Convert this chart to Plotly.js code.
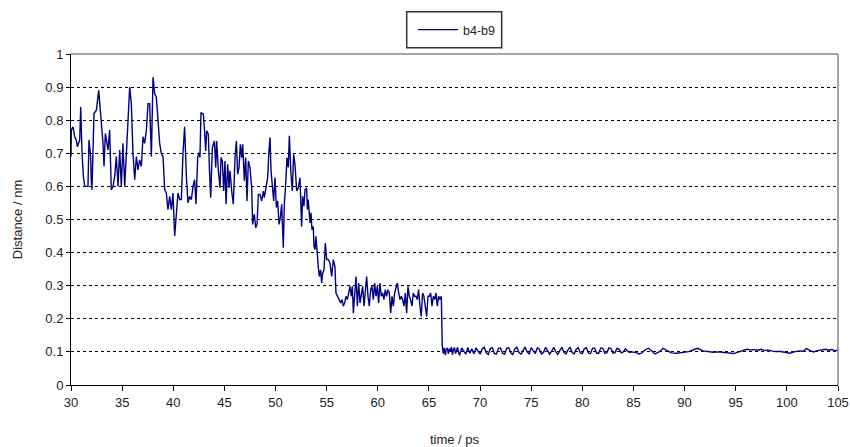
<!DOCTYPE html>
<html>
<head>
<meta charset="utf-8">
<script src="https://cdn.plot.ly/plotly-3.0.1.min.js"></script>
<style>html,body{margin:0;padding:0;background:#fff;}#chart{width:850px;height:447px;}</style>
</head>
<body>
<div id="chart"></div>
<script>
const seriesName = "b4-b9";
const xTitle = "time / ps";
const yTitle = "Distance / nm";
const xTicks = [30,35,40,45,50,55,60,65,70,75,80,85,90,95,100,105];
const yTicks = [0,0.1,0.2,0.3,0.4,0.5,0.6,0.7,0.8,0.9,1];

// early fluctuating segment 30 - 42 ps
const timeA = [30.0,30.03,30.2,30.36,30.52,30.62,30.85,30.95,31.08,31.21,31.34,31.5,31.66,31.76,31.92,31.98,32.05,32.25,32.48,32.71,32.87,33.03,33.13,33.23,33.36,33.62,33.78,33.94,34.11,34.27,34.43,34.6,34.76,34.92,35.08,35.25,35.41,35.57,35.74,35.9,36.06,36.23,36.39,36.55,36.71,36.88,37.04,37.2,37.37,37.53,37.69,37.86,38.02,38.18,38.34,38.51,38.67,38.83,39.0,39.16,39.32,39.48,39.65,39.81,39.97,40.14,40.3,40.46,40.63,40.79,40.95,41.11,41.28,41.44,41.6,41.77,41.93,42.09];
const distA = [0.69,0.77,0.78,0.75,0.74,0.72,0.74,0.84,0.70,0.63,0.60,0.60,0.60,0.74,0.69,0.62,0.59,0.82,0.83,0.89,0.83,0.78,0.73,0.66,0.76,0.71,0.77,0.59,0.60,0.63,0.69,0.60,0.71,0.60,0.73,0.60,0.70,0.79,0.90,0.85,0.70,0.62,0.69,0.65,0.68,0.66,0.75,0.73,0.77,0.85,0.85,0.69,0.93,0.88,0.87,0.80,0.73,0.70,0.69,0.59,0.58,0.53,0.57,0.53,0.58,0.45,0.51,0.58,0.56,0.56,0.70,0.78,0.63,0.55,0.57,0.56,0.60,0.62];

// 42 - 52.3 ps
const timeB = [42.22,42.39,42.52,42.61,42.71,42.94,43.04,43.17,43.27,43.43,43.53,43.66,43.82,44.02,44.15,44.24,44.41,44.57,44.67,44.8,44.93,45.06,45.16,45.32,45.45,45.55,45.71,45.87,46.04,46.17,46.3,46.43,46.56,46.69,46.79,46.95,47.08,47.21,47.34,47.5,47.67,47.76,47.93,48.06,48.19,48.32,48.48,48.64,48.81,48.9,49.07,49.23,49.36,49.46,49.56,49.69,49.82,49.95,50.08,50.21,50.34,50.47,50.6,50.76,50.86,50.99,51.12,51.25,51.35,51.51,51.64,51.77,51.9,52.07,52.23];
const distB = [0.546,0.687,0.702,0.687,0.823,0.818,0.778,0.707,0.768,0.758,0.657,0.566,0.717,0.737,0.657,0.737,0.647,0.596,0.687,0.677,0.586,0.677,0.546,0.667,0.596,0.647,0.586,0.546,0.687,0.737,0.637,0.657,0.727,0.687,0.727,0.617,0.687,0.556,0.677,0.657,0.596,0.485,0.516,0.475,0.485,0.576,0.576,0.556,0.586,0.566,0.596,0.627,0.707,0.748,0.647,0.586,0.556,0.627,0.536,0.556,0.485,0.506,0.546,0.415,0.546,0.606,0.687,0.657,0.753,0.637,0.586,0.697,0.667,0.586,0.596];

// 52.4 - 66.3 ps
const timeC = [52.39,52.49,52.55,52.65,52.78,52.88,53.04,53.11,53.2,53.37,53.47,53.56,53.69,53.76,53.86,53.95,54.02,54.18,54.28,54.41,54.51,54.61,54.74,54.87,55.0,55.16,55.32,55.49,55.65,55.81,55.91,56.04,56.24,56.37,56.5,56.63,56.76,56.89,57.02,57.15,57.28,57.41,57.51,57.61,57.74,57.87,58.0,58.13,58.26,58.39,58.52,58.65,58.78,58.91,59.04,59.17,59.3,59.43,59.56,59.69,59.82,59.95,60.08,60.21,60.34,60.47,60.6,60.73,60.86,60.99,61.13,61.26,61.39,61.52,61.65,61.78,61.91,62.04,62.17,62.3,62.43,62.56,62.69,62.82,62.95,63.08,63.21,63.34,63.47,63.6,63.73,63.86,63.99,64.12,64.25,64.38,64.51,64.64,64.78,64.91,65.04,65.17,65.3,65.43,65.56,65.69,65.82,65.95,66.08,66.21];
const distC = [0.626,0.55,0.479,0.57,0.54,0.59,0.595,0.53,0.56,0.49,0.52,0.469,0.479,0.419,0.409,0.449,0.409,0.358,0.328,0.348,0.308,0.338,0.348,0.429,0.379,0.379,0.369,0.328,0.379,0.358,0.278,0.268,0.258,0.248,0.258,0.238,0.248,0.268,0.258,0.278,0.298,0.268,0.298,0.217,0.268,0.328,0.238,0.308,0.248,0.278,0.298,0.238,0.278,0.328,0.268,0.238,0.288,0.298,0.258,0.308,0.268,0.298,0.248,0.308,0.268,0.278,0.258,0.288,0.268,0.288,0.278,0.217,0.268,0.238,0.278,0.298,0.308,0.278,0.258,0.268,0.258,0.238,0.278,0.217,0.298,0.268,0.258,0.238,0.278,0.268,0.268,0.258,0.288,0.238,0.207,0.278,0.268,0.238,0.207,0.268,0.268,0.278,0.238,0.268,0.258,0.278,0.238,0.268,0.258,0.268];

// 66.3 - 105 ps (after the drop)
const timeD = [66.3,66.4,66.5,66.6,66.7,66.8,66.9,67.0,67.1,67.2,67.3,67.4,67.5,67.6,67.7,67.8,67.9,68.0,68.2,68.4,68.6,68.8,69.0,69.2,69.4,69.6,69.8,70.0,70.2,70.4,70.6,70.8,71.0,71.2,71.4,71.6,71.8,72.0,72.2,72.4,72.6,72.8,73.0,73.2,73.4,73.6,73.8,74.0,74.2,74.4,74.6,74.8,75.0,75.2,75.4,75.6,75.8,76.0,76.2,76.4,76.6,76.8,77.0,77.2,77.4,77.6,77.8,78.0,78.2,78.4,78.6,78.8,79.0,79.2,79.4,79.6,79.8,80.0,80.2,80.4,80.6,80.8,81.0,81.2,81.4,81.6,81.8,82.0,82.2,82.4,82.6,82.8,83.0,83.2,83.4,83.6,83.8,84.0,84.2,84.4,84.6,84.8,85.0,85.3,85.5,85.8,86.1,86.45,86.8,87.1,87.5,87.9,88.3,88.7,89.2,89.8,90.4,91.0,91.3,91.8,92.3,92.8,93.3,93.8,94.3,94.8,95.3,95.8,96.1,96.4,96.8,97.2,97.5,97.8,98.1,98.5,98.9,99.4,99.8,100.3,100.7,101.2,101.6,101.9,102.3,102.6,103.0,103.4,103.8,104.1,104.4,104.7,105.0];
const distD = [0.12,0.095,0.112,0.09,0.108,0.112,0.094,0.11,0.1,0.115,0.092,0.108,0.113,0.095,0.105,0.114,0.097,0.09,0.112,0.102,0.093,0.113,0.096,0.109,0.094,0.112,0.104,0.093,0.108,0.114,0.098,0.092,0.11,0.113,0.095,0.094,0.111,0.112,0.096,0.093,0.11,0.113,0.097,0.092,0.109,0.114,0.098,0.093,0.104,0.115,0.1,0.094,0.113,0.105,0.095,0.112,0.108,0.094,0.098,0.114,0.104,0.093,0.102,0.114,0.1,0.093,0.104,0.114,0.099,0.094,0.106,0.114,0.098,0.094,0.108,0.113,0.097,0.095,0.11,0.113,0.096,0.095,0.111,0.112,0.096,0.096,0.112,0.111,0.096,0.097,0.112,0.11,0.096,0.098,0.111,0.108,0.097,0.1,0.109,0.104,0.098,0.1,0.1,0.098,0.094,0.096,0.105,0.111,0.103,0.094,0.1,0.111,0.104,0.097,0.096,0.098,0.101,0.108,0.111,0.103,0.1,0.099,0.1,0.098,0.097,0.095,0.1,0.104,0.108,0.106,0.107,0.105,0.108,0.104,0.106,0.103,0.101,0.101,0.099,0.096,0.1,0.103,0.102,0.11,0.104,0.1,0.104,0.107,0.108,0.105,0.107,0.104,0.105];

const time = timeA.concat(timeB, timeC, timeD);
const dist = distA.concat(distB, distC, distD);

const fontFam = '"Liberation Sans", Arial, sans-serif';
const trace = {
  x: time, y: dist, type: 'scatter', mode: 'lines', name: seriesName,
  line: {color: '#000080', width: 1.4}
};
const layout = {
  width: 850, height: 447,
  margin: {l: 71, r: 12, t: 54, b: 62},
  paper_bgcolor: '#fff', plot_bgcolor: '#fff',
  font: {family: fontFam, size: 12, color: '#222'},
  showlegend: true,
  legend: {
    x: 0.4459, y: 1.0725, xanchor: 'left', yanchor: 'middle',
    borderwidth: 0, bgcolor: 'rgba(0,0,0,0)', itemwidth: 40,
    font: {family: fontFam, size: 12.5, color: '#222'}
  },
  xaxis: {
    range: [30, 105], tickmode: 'array', tickvals: xTicks, ticktext: xTicks.map(String),
    showgrid: false, zeroline: false, showline: true, linecolor: '#000', linewidth: 1,
    ticks: 'outside', ticklen: 5, tickcolor: '#000',
    tickfont: {family: fontFam, size: 13, color: '#222'},
    title: {text: xTitle, font: {family: fontFam, size: 13, color: '#222'}, standoff: 26}
  },
  yaxis: {
    range: [0, 1], tickmode: 'array', tickvals: yTicks, ticktext: yTicks.map(String),
    showgrid: true, gridcolor: '#000', griddash: 'dot', gridwidth: 1,
    zeroline: false, showline: true, linecolor: '#000', linewidth: 1,
    ticks: 'outside', ticklen: 4, tickcolor: '#000',
    tickfont: {family: fontFam, size: 13, color: '#222'},
    title: {text: yTitle, font: {family: fontFam, size: 13, color: '#222'}, standoff: 19}
  },
  shapes: [
    {type: 'line', xref: 'paper', yref: 'paper', x0: 0, x1: 1, y0: 1, y1: 1, line: {color: '#888', width: 1.5}},
    {type: 'line', xref: 'paper', yref: 'paper', x0: 1, x1: 1, y0: 0, y1: 1, line: {color: '#888', width: 1.5}},
    {type: 'rect', xref: 'paper', yref: 'paper', x0: 0.4377, x1: 0.5615, y0: 1.019, y1: 1.1278, line: {color: '#333', width: 1.5}, fillcolor: 'rgba(0,0,0,0)'}
  ]
};
Plotly.newPlot('chart', [trace], layout, {displayModeBar: false, staticPlot: true});
</script>
</body>
</html>
